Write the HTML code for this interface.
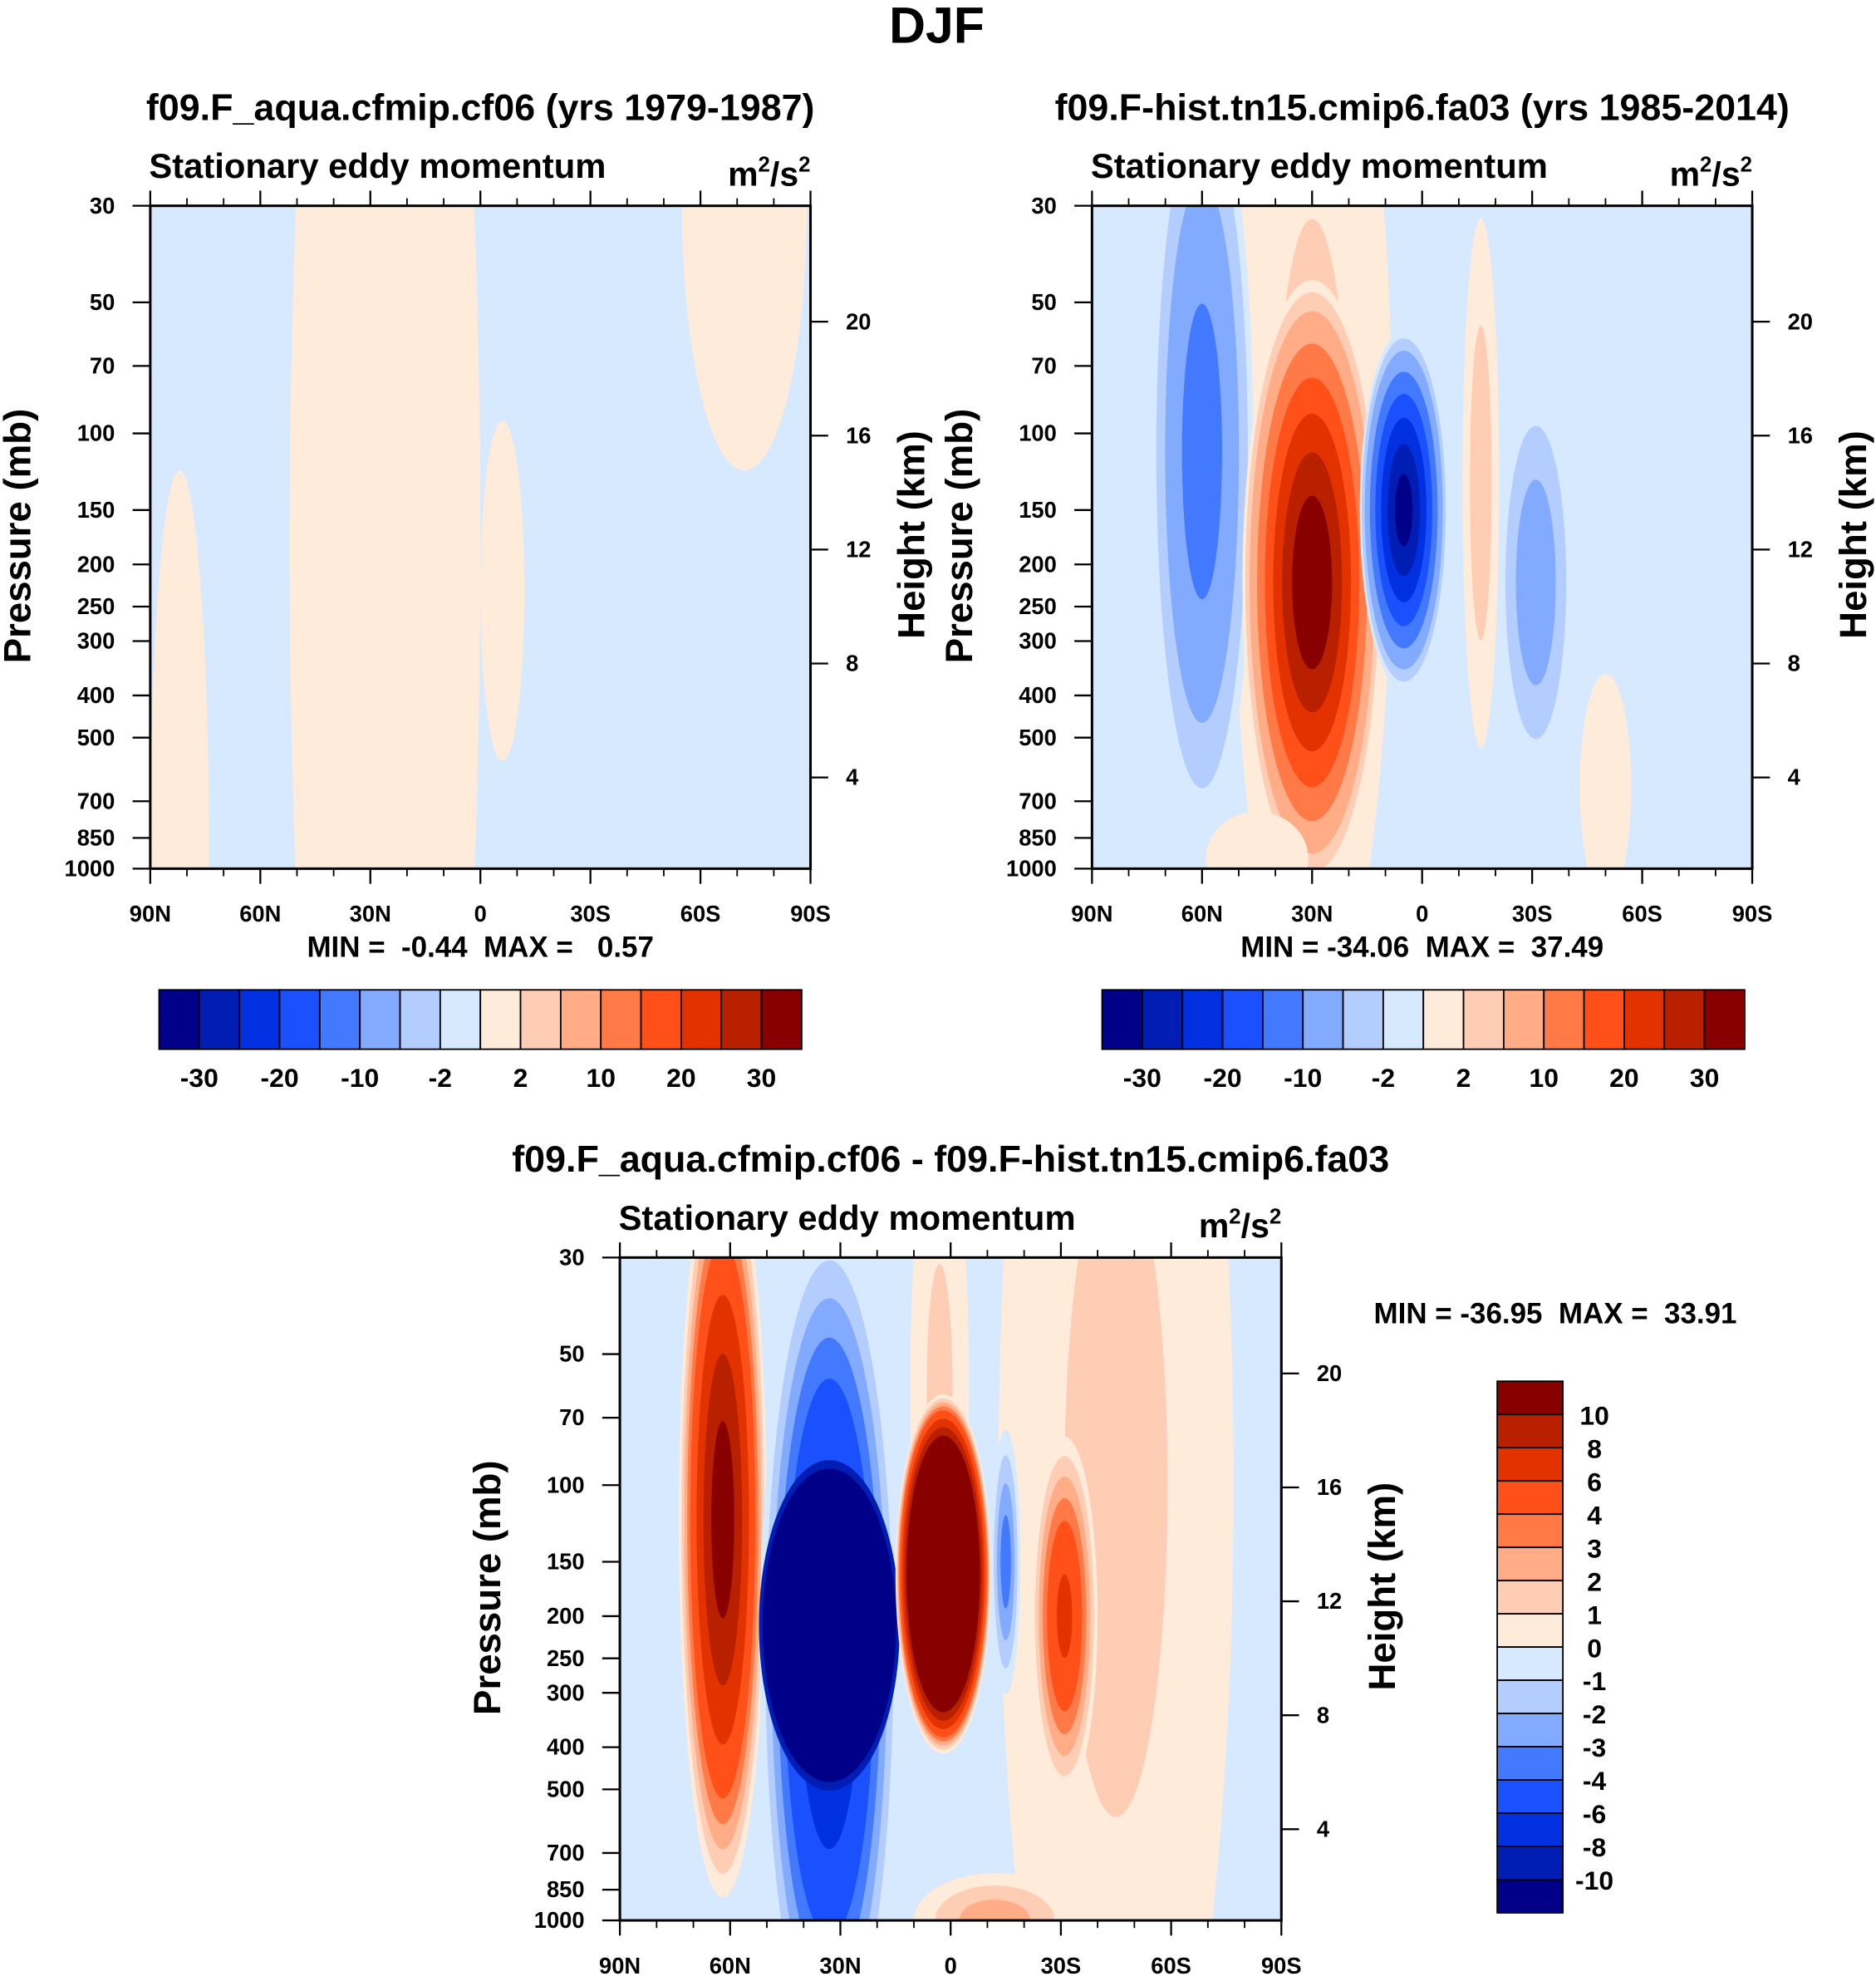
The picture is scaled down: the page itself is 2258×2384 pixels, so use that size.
<!DOCTYPE html>
<html><head><meta charset="utf-8">
<style>
html,body{margin:0;padding:0;background:#fff;overflow:hidden;}
svg{display:block;font-family:"Liberation Sans",sans-serif;font-weight:bold;}
text{white-space:pre;}
</style></head>
<body>
<svg id="chart" width="2258" height="2384" viewBox="0 0 1486 1569" xmlns="http://www.w3.org/2000/svg"></svg>
<script>
// ---- data ----
const colors = ["#000088","#001eb4","#0030e0","#1a50fe","#4279fe","#82aafe","#b3cdfe","#d6e9fe","#ffebda","#ffcdb3","#ffac87","#ff7a46","#ff5019","#e23200","#b82000","#880000"];
const levelsTop = [-30,-25,-20,-15,-10,-5,-2,0,2,5,10,15,20,25,30];
const levelsDiff = [-10,-8,-6,-4,-3,-2,-1,0,1,2,3,4,6,8,10];
const cbLabelsTop = ["-30","-20","-10","-2","2","10","20","30"];
const cbLabelsDiff = ["10","8","6","4","3","2","1","0","-1","-2","-3","-4","-6","-8","-10"];
const pTicks = [30,50,70,100,150,200,250,300,400,500,700,850,1000];
const zTicks = [4,8,12,16,20];
const latTicks = [90,60,30,0,-30,-60,-90];
const latLabels = ["90N","60N","30N","0","30S","60S","90S"];
// features: lat, p center (mb), lat half-width, ln-p half-height, peak value, floor (skip thresholds weaker than floor)
const f1Lat = [26,-6,-72,82];
const f1P = [180,230,30,900];
const f1DLat = [26,6,17,8];
const f1DLn = [5,0.9,1.4,2];
const f1Val = [0.5,0.5,0.5,0.4];
const f1Floor = [0,0,0,0];
const f2Lat = [30,60,30,5,-16,-31,-50,45];
const f2P = [120,110,220,150,130,220,650,950];
const f2DLat = [22,14,19,12,5,10,7,14];
const f2DLn = [3.0,2.0,1.6,0.95,1.4,1.0,0.6,0.25];
const f2Val = [3,-14,37,-34,4,-9,2,2];
const f2Floor = [0,0,0,0,0,0,0,0];
const f3Lat = [-45,3,-12,62,33,33,2,-15,-31];
const f3P = [100,60,1000,120,250,210,160,150,200];
const f3DLat = [32,8,22,12,19,23,13,4,9];
const f3DLn = [4,1.5,0.25,2.0,2.3,1.05,0.95,0.7,0.95];
const f3Val = [1.5,1.5,3,12,-9,-37,34,-4,7];
const f3Floor = [0,0,0,0,0,8,0,0,0];

const NS="http://www.w3.org/2000/svg";
const svg=document.getElementById('chart');
function mk(tag,attrs,parent){const e=document.createElementNS(NS,tag);for(const k in attrs)e.setAttribute(k,attrs[k]);(parent||svg).appendChild(e);return e;}
function txt(s,x,y,size,anchor,parent){const t=mk('text',{x:x,y:y,'font-size':size,'text-anchor':anchor||'middle'},parent);t.textContent=s;return t;}
function colorIdx(v,levels){let i=0;while(i<levels.length&&v>=levels[i])i++;return i;}

function panel(name,x0,y0,W,H,lats,ps,dlats,dlns,vals,floors,levels,title,minmax){
  const g=mk('g',{});
  
  
  const lnMax=Math.log(1000/30);
  const X=lat=>x0+(90-lat)/180*W;
  const Y=p=>y0+H-Math.log(1000/p)/lnMax*H;
  const clipId=name+'-clip';
  const cp=mk('clipPath',{id:clipId},g);mk('rect',{x:x0,y:y0,width:W,height:H},cp);
  const area=mk('g',{'clip-path':'url(#'+clipId+')'},g);
  mk('rect',{x:x0,y:y0,width:W,height:H,fill:colors[7]},area);
  for(let f=0;f<lats.length;f++){
    const peak=vals[f];
    let thr=levels.filter(l=> peak>0 ? (l>=0&&l<peak) : (l<0&&l>peak)).sort((a,b)=>Math.abs(a)-Math.abs(b));
    if(peak<0) thr.unshift(-0.0001);
    thr=thr.filter(l=>Math.abs(l)>=floors[f]);
    for(const L of thr){
      const s=Math.pow(1-L/peak,0.75);
      const ci=peak>0?colorIdx(L,levels):colorIdx(L-0.0001,levels);
      const cx=X(lats[f]), cy=(Y(ps[f]));
      const rx=dlats[f]/180*W*s, ry=dlns[f]/lnMax*H*s;
      const e=mk('ellipse',{cx:cx,cy:cy,rx:rx,ry:ry,fill:colors[ci]},area);
      
      
    }
  }
  mk('rect',{x:x0,y:y0,width:W,height:H,fill:'none',stroke:'#000','stroke-width':2},g);
  pTicks.forEach(p=>{const y=Y(p);mk('line',{x1:x0-14,y1:y,x2:x0,y2:y,stroke:'#000','stroke-width':1.5},g);txt(String(p),x0-28,y+6,18,'end',g);});
  zTicks.forEach(z=>{const y=y0+H+(18-z*22.56)*H/525;mk('line',{x1:x0+W,y1:y,x2:x0+W+14,y2:y,stroke:'#000','stroke-width':1.5},g);txt(String(z),x0+W+28,y+6,18,'start',g);});
  latTicks.forEach((l,i)=>{const x=X(l);mk('line',{x1:x,y1:y0+H,x2:x,y2:y0+H+12,stroke:'#000','stroke-width':1.5},g);mk('line',{x1:x,y1:y0,x2:x,y2:y0-12,stroke:'#000','stroke-width':1.5},g);txt(latLabels[i],x,y0+H+42,18,'middle',g);});
  for(let l=80;l>-90;l-=10){if(l%30){const x=X(l);mk('line',{x1:x,y1:y0+H,x2:x,y2:y0+H+6,stroke:'#000','stroke-width':1.2},g);mk('line',{x1:x,y1:y0,x2:x,y2:y0-6,stroke:'#000','stroke-width':1.2},g);}}
  const yl=txt('Pressure (mb)',0,0,30,'middle',g);yl.setAttribute('transform','translate('+(x0-95)+','+(y0+H/2-1)+') rotate(-90)');
  const yr=txt('Height (km)',0,0,30,'middle',g);yr.setAttribute('transform','translate('+(x0+W+90)+','+(y0+H/2-2)+') rotate(-90)');
  txt('Stationary eddy momentum',x0-1,y0-22,27.5,'start',g);
  const u=txt('',x0+W,y0-16,27,'end',g);u.innerHTML='m<tspan dy="-11" font-size="17">2</tspan><tspan dy="11">/s</tspan><tspan dy="-11" font-size="17">2</tspan>';
  txt(title,x0+W/2,y0-68,29.5,'middle',g);
  if(minmax) txt(minmax,x0+W/2,y0+H+70,23,'middle',g);
  return g;
}
function hbar(name,x0,y0,w,h){
  const g=mk('g',{});
  const bw=w/16;
  colors.forEach((c,i)=>mk('rect',{x:x0+i*bw,y:y0,width:bw,height:h,fill:c,stroke:'#000','stroke-width':1.2},g));
  cbLabelsTop.forEach((s,i)=>txt(s,x0+(2*i+1)*bw,y0+h+30,21,'middle',g));
}
panel('left-panel',119,163,523,525,f1Lat,f1P,f1DLat,f1DLn,f1Val,f1Floor,levelsTop,'f09.F_aqua.cfmip.cf06 (yrs 1979-1987)','MIN =  -0.44  MAX =   0.57');
panel('right-panel',865,163,523,525,f2Lat,f2P,f2DLat,f2DLn,f2Val,f2Floor,levelsTop,'f09.F-hist.tn15.cmip6.fa03 (yrs 1985-2014)','MIN = -34.06  MAX =  37.49');
panel('diff-panel',491,996,524,525,f3Lat,f3P,f3DLat,f3DLn,f3Val,f3Floor,levelsDiff,'f09.F_aqua.cfmip.cf06 - f09.F-hist.tn15.cmip6.fa03','');
hbar('left-colorbar',126,784,509,47);
hbar('right-colorbar',873,784,509,47);
(function(){const g=mk('g',{});
const x0=1186,y0=1094,w=52,h=421,bh=h/16;
colors.slice().reverse().forEach((c,i)=>mk('rect',{x:x0,y:y0+i*bh,width:w,height:bh,fill:c,stroke:'#000','stroke-width':1.2},g));
cbLabelsDiff.forEach((s,i)=>txt(s,1263,y0+(i+1)*bh+8,21,'middle',g));})();
txt('MIN = -36.95  MAX =  33.91',1232,1048,23,'middle');
const t=txt('DJF',742,34,40,'middle');
</script>
</body></html>
